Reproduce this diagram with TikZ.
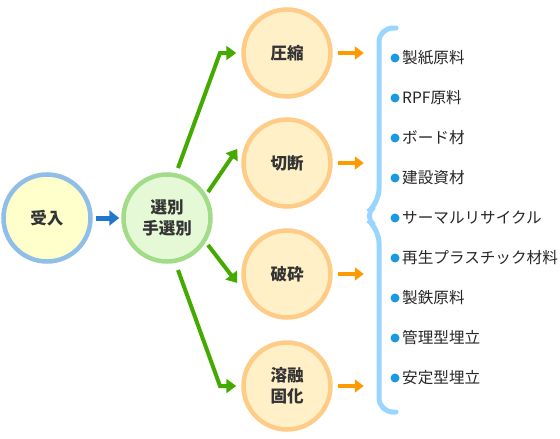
\documentclass[tikz,border=0pt]{standalone}
\usepackage{fontspec}
\setmainfont{Noto Sans CJK JP}
\usetikzlibrary{arrows.meta}
\definecolor{txt}{HTML}{333333}
\definecolor{bluering}{HTML}{8FBEE8}
\definecolor{yellowfill}{HTML}{FFFFCC}
\definecolor{greenring}{HTML}{A3DC88}
\definecolor{greenfill}{HTML}{E6F9D6}
\definecolor{orangering}{HTML}{FFCC88}
\definecolor{orangefill}{HTML}{FFF0C8}
\definecolor{arrgreen}{HTML}{44AA00}
\definecolor{arrblue}{HTML}{2277CC}
\definecolor{arrorange}{HTML}{FF9900}
\definecolor{bracec}{HTML}{99D6FF}
\definecolor{dotc}{HTML}{1A9AE0}
\begin{document}
\begin{tikzpicture}[x=1pt,y=-1pt,
  circ/.style={circle,minimum size=87pt,line width=4.5pt,inner sep=0pt,align=center,
    font=\fontsize{16.5}{21}\selectfont\bfseries,text=txt},
  garrow/.style={draw=arrgreen,line width=4pt,-{Triangle[length=10pt,width=14pt]}},
  oarrow/.style={draw=arrorange,line width=3.5pt,-{Triangle[length=9pt,width=13pt]}},
  item/.style={anchor=west,inner sep=0pt,font=\fontsize{15.6}{19}\selectfont,text=black!85},
  dot/.style={circle,fill=dotc,inner sep=0pt,minimum size=9pt}]
\useasboundingbox (0,0) rectangle (560,439);
\node[circ,draw=bluering,fill=yellowfill] (uke) at (47,218) {受入};
\node[circ,draw=greenring,fill=greenfill] (sen) at (167,218) {選別\\手選別};
\node[circ,draw=orangering,fill=orangefill] (a) at (287,53) {圧縮};
\node[circ,draw=orangering,fill=orangefill] (b) at (287,163) {切断};
\node[circ,draw=orangering,fill=orangefill] (c) at (287,274) {破砕};
\node[circ,draw=orangering,fill=orangefill] (d) at (287,386) {溶融\\固化};
\draw[draw=arrblue,line width=5pt,-{Triangle[length=10pt,width=15pt]}] (uke.east) ++(3,0) coordinate (u1) -- ([xshift=-2pt]sen.west);
\coordinate (ga) at (220,53);
\coordinate (gd) at (220,386);
\draw[garrow] (178,168) -- (ga) -- ([xshift=-5pt]a.west);
\draw[garrow] (208,192) -- ([xshift=-4pt,yshift=14pt]b.west);
\draw[garrow] (208,245) -- ([xshift=-4pt,yshift=-9pt]c.west);
\draw[garrow] (178,270) -- (gd) -- ([xshift=-5pt]d.west);
\foreach \n in {a,b,c,d}{
  \draw[oarrow] ([xshift=5pt]\n.east) -- ++(26,0);
}
\draw[draw=bracec,line width=5pt,line cap=round,rounded corners=14pt]
  (396,28) -- (379,28) -- (379,203) -- (363,216) -- (379,229) -- (379,412) -- (396,412);
\foreach \t [count=\i] in {製紙原料,RPF原料,ボード材,建設資材,サーマルリサイクル,再生プラスチック材料,製鉄原料,管理型埋立,安定型埋立}{
  \node[dot] (d\i) at (395,{58+40*(\i-1)}) {};
  \node[item] (t\i) at (402,{58+40*(\i-1)}) {\t};
}
\end{tikzpicture}
\end{document}
